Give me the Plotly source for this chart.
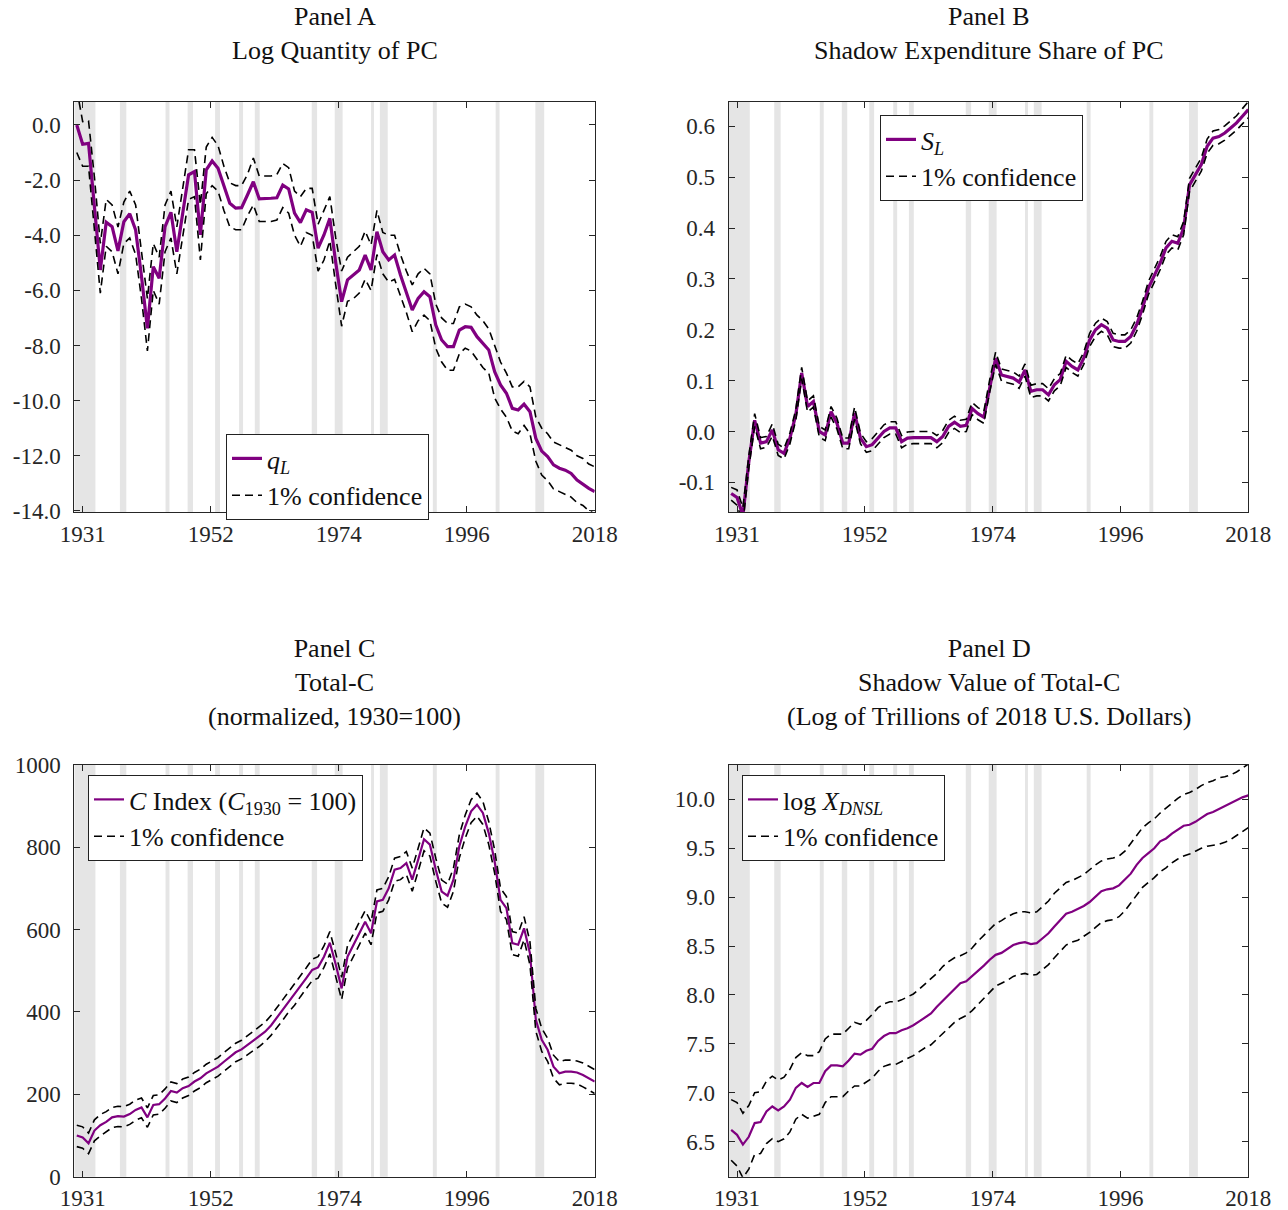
import plotly.graph_objects as go

# ---------------- data ----------------
YEARS = list(range(1930, 2019))

X_TICK_POS_START, X_TICK_POS_END = 1931, 2018
X_TICK_LABELS = ["1931", "1952", "1974", "1996", "2018"]

REC_START = [1929.58, 1937.33, 1945.08, 1948.83, 1953.50, 1957.58, 1960.25,
             1969.92, 1973.83, 1980.00, 1981.50, 1990.50, 2001.17, 2007.92]
REC_END = [1933.17, 1938.42, 1945.75, 1949.75, 1954.33, 1958.25, 1961.08,
           1970.83, 1975.17, 1980.50, 1982.83, 1991.17, 2001.83, 2009.42]

# Panel A: log quantity of PC
QL = [0.0, -0.70, -0.67, -2.9, -5.26, -3.53, -3.69, -4.57, -3.51, -3.22,
      -3.81, -5.5, -7.38, -5.14, -5.56, -3.69, -3.17, -4.6, -3.2, -1.81,
      -1.69, -3.99, -1.63, -1.31, -1.57, -2.2, -2.84, -3.02, -3.0, -2.54,
      -2.06, -2.68, -2.68, -2.66, -2.64, -2.18, -2.32, -3.2, -3.54, -3.08,
      -3.17, -4.47, -3.99, -3.39, -5.0, -6.41, -5.62, -5.44, -5.26, -4.72,
      -5.26, -3.87, -4.6, -4.9, -4.72, -5.44, -6.05, -6.71, -6.29, -6.05,
      -6.23, -7.26, -7.8, -8.04, -8.04, -7.44, -7.32, -7.34, -7.68, -7.92,
      -8.16, -8.95, -9.43, -9.73, -10.28, -10.34, -10.13, -10.4, -11.37, -11.83,
      -12.03, -12.33, -12.45, -12.52, -12.64, -12.88, -13.04, -13.18, -13.3]
QL_UP = [1.3, 0.12, 0.15, -1.9, -4.3, -2.7, -2.9, -3.7, -2.8, -2.4,
         -2.9, -4.5, -6.3, -4.3, -4.8, -2.9, -2.4, -3.7, -2.3, -0.9,
         -0.9, -2.9, -0.8, -0.45, -0.75, -1.5, -2.1, -2.2, -2.2, -1.8,
         -1.2, -1.85, -1.85, -1.85, -1.8, -1.4, -1.55, -2.4, -2.6, -2.3,
         -2.3, -3.6, -3.1, -2.6, -4.1, -5.3, -4.8, -4.6, -4.4, -3.85,
         -4.35, -3.1, -3.9, -4.0, -4.0, -4.7, -5.3, -5.8, -5.4, -5.2,
         -5.4, -6.5, -7.0, -7.2, -7.2, -6.6, -6.5, -6.6, -6.9, -7.1,
         -7.4, -8.0, -8.6, -9.0, -9.5, -9.5, -9.3, -9.5, -10.6, -11.0,
         -11.2, -11.5, -11.6, -11.7, -11.8, -12.0, -12.1, -12.3, -12.4]
QL_LO = [-1.0, -1.5, -1.5, -3.8, -6.1, -4.4, -4.6, -5.4, -4.3, -4.1,
         -4.7, -6.3, -8.2, -6.0, -6.5, -4.6, -4.1, -5.4, -4.0, -2.7,
         -2.6, -4.9, -2.5, -2.2, -2.4, -3.1, -3.7, -3.8, -3.8, -3.3,
         -2.9, -3.5, -3.5, -3.5, -3.45, -3.0, -3.2, -4.0, -4.4, -3.9,
         -4.0, -5.3, -4.9, -4.2, -5.8, -7.3, -6.4, -6.3, -6.1, -5.6,
         -6.0, -4.7, -5.4, -5.7, -5.6, -6.2, -6.8, -7.5, -7.1, -6.9,
         -7.1, -8.1, -8.6, -8.9, -8.9, -8.3, -8.1, -8.2, -8.5, -8.8,
         -9.0, -9.9, -10.3, -10.6, -11.1, -11.2, -10.9, -11.2, -12.2, -12.7,
         -12.9, -13.2, -13.3, -13.4, -13.5, -13.7, -13.8, -14.0, -14.1]

# Panel B: shadow expenditure share of PC
SL = [-0.122, -0.130, -0.165, -0.060, 0.022, -0.023, -0.020, 0.003, -0.036, -0.043,
      -0.013, 0.033, 0.115, 0.049, 0.059, 0.000, -0.007, 0.039, 0.016, -0.023,
      -0.023, 0.036, -0.013, -0.030, -0.026, -0.013, 0.000, 0.007, 0.007, -0.020,
      -0.013, -0.012, -0.012, -0.012, -0.012, -0.020, -0.010, 0.010, 0.018, 0.010,
      0.012, 0.045, 0.035, 0.028, 0.090, 0.144, 0.111, 0.108, 0.105, 0.097,
      0.121, 0.079, 0.082, 0.082, 0.072, 0.092, 0.102, 0.138, 0.128, 0.121,
      0.144, 0.180, 0.200, 0.210, 0.203, 0.180, 0.177, 0.177, 0.187, 0.210,
      0.243, 0.282, 0.305, 0.331, 0.361, 0.374, 0.370, 0.400, 0.485, 0.505,
      0.525, 0.561, 0.577, 0.580, 0.587, 0.597, 0.607, 0.620, 0.633]
SL_UP = [-0.110, -0.115, -0.150, -0.048, 0.035, -0.012, -0.010, 0.015, -0.025, -0.033,
         -0.003, 0.043, 0.126, 0.060, 0.070, 0.010, 0.003, 0.049, 0.026, -0.013,
         -0.013, 0.048, -0.003, -0.020, -0.014, 0.000, 0.013, 0.019, 0.019, -0.008,
         -0.001, 0.000, 0.000, 0.000, 0.000, -0.008, 0.002, 0.022, 0.030, 0.022,
         0.024, 0.057, 0.047, 0.040, 0.102, 0.156, 0.123, 0.120, 0.117, 0.109,
         0.133, 0.091, 0.094, 0.094, 0.084, 0.104, 0.114, 0.150, 0.140, 0.133,
         0.156, 0.193, 0.213, 0.223, 0.216, 0.193, 0.190, 0.190, 0.200, 0.223,
         0.256, 0.295, 0.318, 0.344, 0.374, 0.387, 0.383, 0.413, 0.498, 0.518,
         0.538, 0.575, 0.591, 0.594, 0.601, 0.611, 0.621, 0.635, 0.649]
SL_LO = [-0.135, -0.145, -0.180, -0.072, 0.010, -0.034, -0.031, -0.009, -0.047, -0.054,
         -0.024, 0.022, 0.104, 0.038, 0.048, -0.011, -0.018, 0.028, 0.005, -0.034,
         -0.034, 0.024, -0.024, -0.041, -0.038, -0.025, -0.012, -0.005, -0.005, -0.032,
         -0.025, -0.024, -0.024, -0.024, -0.024, -0.032, -0.022, -0.002, 0.006, -0.002,
         0.000, 0.033, 0.023, 0.016, 0.078, 0.132, 0.099, 0.096, 0.093, 0.085,
         0.109, 0.067, 0.070, 0.070, 0.060, 0.080, 0.090, 0.126, 0.116, 0.109,
         0.132, 0.167, 0.187, 0.197, 0.190, 0.167, 0.164, 0.164, 0.174, 0.197,
         0.230, 0.269, 0.292, 0.318, 0.348, 0.361, 0.357, 0.387, 0.472, 0.492,
         0.512, 0.547, 0.563, 0.566, 0.573, 0.583, 0.593, 0.605, 0.617]

# Panel C: Total-C index (1930 = 100)
CI = [100, 95, 81, 112, 125, 133, 144, 147, 146, 152,
      162, 168, 144, 174, 176, 190, 208, 204, 215, 220,
      231, 239, 251, 259, 267, 279, 291, 302, 309, 320,
      330, 340, 352, 367, 386, 405, 425, 441, 462, 482,
      502, 508, 534, 568, 515, 457, 534, 563, 591, 619,
      591, 668, 672, 700, 745, 749, 761, 721, 769, 819,
      806, 745, 692, 682, 721, 802, 850, 887, 903, 883,
      834, 765, 672, 652, 567, 563, 603, 542, 381, 332,
      308, 267, 251, 255, 255, 253, 247, 239, 231]
CI_UP = [125, 121, 106, 138, 151, 158, 168, 171, 170, 176,
         186, 191, 167, 197, 199, 213, 230, 226, 237, 242,
         253, 261, 273, 281, 289, 301, 313, 324, 331, 342,
         353, 363, 375, 391, 410, 429, 450, 466, 487, 507,
         528, 534, 560, 595, 542, 484, 561, 590, 618, 646,
         618, 696, 700, 728, 773, 777, 789, 749, 797, 847,
         834, 773, 720, 710, 749, 830, 878, 915, 931, 911,
         862, 793, 700, 680, 595, 591, 631, 570, 409, 360,
         336, 295, 279, 283, 283, 281, 276, 268, 260]
CI_LO = [73, 69, 56, 87, 99, 108, 119, 122, 121, 127,
         137, 143, 120, 150, 152, 166, 184, 180, 191, 197,
         208, 216, 228, 236, 244, 256, 268, 279, 286, 297,
         306, 316, 328, 343, 361, 380, 400, 416, 437, 456,
         476, 482, 508, 541, 488, 430, 506, 535, 563, 591,
         563, 640, 644, 672, 717, 721, 733, 693, 741, 791,
         778, 717, 664, 654, 693, 774, 822, 859, 875, 855,
         806, 737, 644, 624, 539, 535, 575, 514, 353, 304,
         280, 239, 223, 227, 227, 225, 218, 210, 202]

# Panel D: log shadow value of Total-C
LX = [6.62, 6.57, 6.47, 6.55, 6.69, 6.70, 6.81, 6.86, 6.82, 6.86,
      6.93, 7.05, 7.10, 7.06, 7.10, 7.10, 7.22, 7.28, 7.28, 7.27,
      7.33, 7.40, 7.39, 7.43, 7.45, 7.53, 7.58, 7.61, 7.61, 7.64,
      7.66, 7.69, 7.73, 7.77, 7.81, 7.88, 7.94, 8.00, 8.07, 8.12,
      8.14, 8.19, 8.25, 8.30, 8.36, 8.41, 8.43, 8.47, 8.51, 8.53,
      8.54, 8.52, 8.53, 8.58, 8.63, 8.70, 8.77, 8.83, 8.85, 8.88,
      8.91, 8.95, 9.01, 9.06, 9.08, 9.09, 9.12, 9.18, 9.24, 9.33,
      9.40, 9.45, 9.50, 9.57, 9.60, 9.65, 9.69, 9.73, 9.74, 9.77,
      9.81, 9.85, 9.87, 9.90, 9.93, 9.96, 9.99, 10.02, 10.04]
LX_UP = [6.93, 6.90, 6.79, 6.87, 7.00, 7.01, 7.12, 7.17, 7.13, 7.16,
         7.24, 7.36, 7.41, 7.38, 7.38, 7.42, 7.55, 7.60, 7.60, 7.60,
         7.66, 7.72, 7.70, 7.74, 7.80, 7.87, 7.91, 7.93, 7.93, 7.95,
         7.98, 8.01, 8.06, 8.11, 8.16, 8.22, 8.29, 8.34, 8.38, 8.40,
         8.43, 8.48, 8.55, 8.61, 8.68, 8.73, 8.76, 8.80, 8.83, 8.85,
         8.85, 8.84, 8.85, 8.91, 8.96, 9.04, 9.10, 9.15, 9.17, 9.20,
         9.23, 9.28, 9.33, 9.37, 9.39, 9.40, 9.42, 9.47, 9.55, 9.62,
         9.71, 9.76, 9.80, 9.86, 9.91, 9.96, 10.01, 10.05, 10.07, 10.10,
         10.14, 10.17, 10.19, 10.22, 10.23, 10.25, 10.28, 10.32, 10.36]
LX_LO = [6.31, 6.25, 6.13, 6.22, 6.37, 6.38, 6.48, 6.53, 6.50, 6.53,
         6.60, 6.73, 6.78, 6.74, 6.76, 6.78, 6.90, 6.96, 6.96, 6.96,
         7.02, 7.07, 7.07, 7.11, 7.15, 7.22, 7.27, 7.29, 7.29, 7.32,
         7.35, 7.38, 7.42, 7.46, 7.49, 7.55, 7.61, 7.66, 7.72, 7.76,
         7.79, 7.84, 7.90, 7.96, 8.03, 8.09, 8.12, 8.15, 8.19, 8.21,
         8.22, 8.20, 8.21, 8.26, 8.31, 8.38, 8.45, 8.51, 8.54, 8.56,
         8.60, 8.64, 8.69, 8.74, 8.76, 8.77, 8.80, 8.86, 8.94, 9.02,
         9.10, 9.15, 9.20, 9.26, 9.30, 9.35, 9.39, 9.42, 9.44, 9.47,
         9.50, 9.52, 9.53, 9.54, 9.56, 9.59, 9.63, 9.67, 9.71]

A_YTICKS = [-14, -12, -10, -8, -6, -4, -2, 0]
A_YLABELS = ["-14.0", "-12.0", "-10.0", "-8.0", "-6.0", "-4.0", "-2.0", "0.0"]
B_YTICKS = [-0.1, 0.0, 0.1, 0.2, 0.3, 0.4, 0.5, 0.6]
B_YLABELS = ["-0.1", "0.0", "0.1", "0.2", "0.3", "0.4", "0.5", "0.6"]
C_YTICKS = [0, 200, 400, 600, 800, 1000]
C_YLABELS = ["0", "200", "400", "600", "800", "1000"]
D_YTICKS = [6.5, 7.0, 7.5, 8.0, 8.5, 9.0, 9.5, 10.0]
D_YLABELS = ["6.5", "7.0", "7.5", "8.0", "8.5", "9.0", "9.5", "10.0"]

TITLES = ["Panel A<br>Log Quantity of PC",
          "Panel B<br>Shadow Expenditure Share of PC",
          "Panel C<br>Total-C<br>(normalized, 1930=100)",
          "Panel D<br>Shadow Value of Total-C<br>(Log of Trillions of 2018 U.S. Dollars)"]
MAIN_NAMES = ["<i>q</i><sub><i>L</i></sub>",
              "<i>S</i><sub><i>L</i></sub>",
              "<i>C</i> Index (<i>C</i><sub>1930</sub> = 100)",
              "log <i>X</i><sub><i>DNSL</i></sub>"]
BAND_NAME = "1% confidence"

# ---------------- layout helpers ----------------
W, H = 1288, 1210
FONT = "Liberation Serif"
PURPLE = "#800080"
AXC = "#262626"
XLIM = [1929.58, 2018]

n_ticks = len(X_TICK_LABELS)
X_TICK_POS = [X_TICK_POS_START + i * (X_TICK_POS_END - X_TICK_POS_START) / (n_ticks - 1)
              for i in range(n_ticks)]

XDOM = {"L": [74.3 / W, 594.7 / W], "R": [728.7 / W, 1248.3 / W]}
YDOM = {"T": [1 - 512.3 / H, 1 - 101.5 / H], "B": [1 - 1176.7 / H, 1 - 764.7 / H]}

panels = [
    dict(x="L", y="T", main=QL, up=QL_UP, lo=QL_LO, yr=[-14.05, 0.85],
         yt=A_YTICKS, yl=A_YLABELS, mw=3.2, dw=1.6,
         leg=(226, 434), title_top=0),
    dict(x="R", y="T", main=SL, up=SL_UP, lo=SL_LO, yr=[-0.159, 0.649],
         yt=B_YTICKS, yl=B_YLABELS, mw=3.2, dw=1.6,
         leg=(880, 115), title_top=0),
    dict(x="L", y="B", main=CI, up=CI_UP, lo=CI_LO, yr=[0, 1000],
         yt=C_YTICKS, yl=C_YLABELS, mw=2.2, dw=1.6,
         leg=(88, 775), title_top=632),
    dict(x="R", y="B", main=LX, up=LX_UP, lo=LX_LO, yr=[6.142, 10.354],
         yt=D_YTICKS, yl=D_YLABELS, mw=2.2, dw=1.6,
         leg=(742, 775), title_top=632),
]

fig = go.Figure()
layout = dict(width=W, height=H, autosize=False,
              margin=dict(l=0, r=0, t=0, b=0, pad=0, autoexpand=False),
              paper_bgcolor="white", plot_bgcolor="white",
              font=dict(family=FONT, size=23, color=AXC),
              shapes=[], annotations=[])

for i, p in enumerate(panels):
    k = "" if i == 0 else str(i + 1)
    xa, ya = "x" + k, "y" + k
    lg = "legend" + k
    common = dict(showline=True, linecolor=AXC, linewidth=1, mirror="ticks",
                  ticks="inside", ticklen=6, tickcolor=AXC, tickwidth=1,
                  showgrid=False, zeroline=False, automargin=False,
                  tickfont=dict(family=FONT, size=23, color=AXC))
    layout["xaxis" + k] = dict(common, domain=XDOM[p["x"]], range=XLIM,
                               anchor=ya, tickmode="array", tickvals=X_TICK_POS,
                               ticktext=X_TICK_LABELS, ticklabelstandoff=1)
    layout["yaxis" + k] = dict(common, domain=YDOM[p["y"]], range=p["yr"],
                               anchor=xa, tickmode="array", tickvals=p["yt"],
                               ticktext=p["yl"], ticklabelstandoff=8)
    for s, e in zip(REC_START, REC_END):
        layout["shapes"].append(dict(type="rect", xref=xa, yref=ya + " domain",
                                     x0=s, x1=e, y0=0, y1=1, layer="below",
                                     fillcolor="#e5e5e5", line=dict(width=0)))
    xd = XDOM[p["x"]]
    layout["annotations"].append(dict(text=TITLES[i], xref="paper", yref="paper",
                                      x=(xd[0] + xd[1]) / 2, y=1 - p["title_top"] / H,
                                      xanchor="center", yanchor="top", showarrow=False,
                                      align="center",
                                      font=dict(family=FONT, size=26, color="#111111")))
    layout[lg] = dict(x=p["leg"][0] / W, y=1 - p["leg"][1] / H, xanchor="left",
                      yanchor="top", bordercolor="#222222", borderwidth=1,
                      bgcolor="white", font=dict(family=FONT, size=26, color="#111111"),
                      tracegroupgap=0, itemwidth=30)

    fig.add_trace(go.Scatter(x=YEARS, y=p["main"], mode="lines", xaxis=xa, yaxis=ya,
                             line=dict(color=PURPLE, width=p["mw"]),
                             name=MAIN_NAMES[i], legend=lg, legendrank=1))
    fig.add_trace(go.Scatter(x=YEARS, y=p["up"], mode="lines", xaxis=xa, yaxis=ya,
                             line=dict(color="black", width=p["dw"], dash="8px,5px"),
                             name=BAND_NAME, legend=lg, legendrank=2))
    fig.add_trace(go.Scatter(x=YEARS, y=p["lo"], mode="lines", xaxis=xa, yaxis=ya,
                             line=dict(color="black", width=p["dw"], dash="8px,5px"),
                             name=BAND_NAME, legend=lg, showlegend=False))

fig.update_layout(**layout)
fig.write_html("out.html", config={"displayModeBar": False},
               post_script="document.body.style.margin='0';")
